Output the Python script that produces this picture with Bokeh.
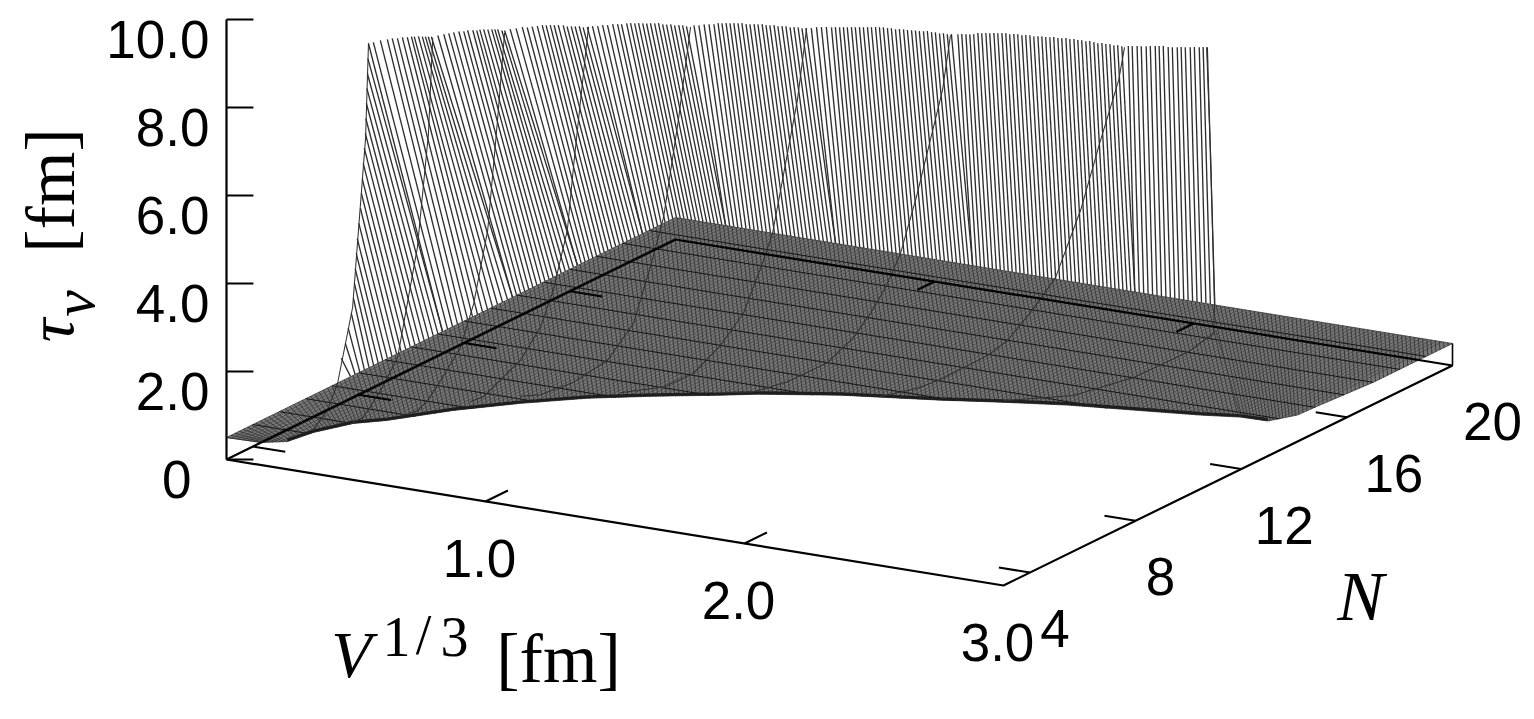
from math import pi
import numpy as np
from bokeh.plotting import figure
from bokeh.models import Range1d
from bokeh.core.properties import value
from bokeh.embed import file_html
from bokeh.resources import INLINE

# ---- axis ticks -------------------------------------------------------------
tau_ticks = [0, 2, 4, 6, 8, 10]
tau_labels = ["0", "2.0", "4.0", "6.0", "8.0", "10.0"]
V_ticks = [1, 2, 3]
V_labels = ["1.0", "2.0", "3.0"]
N_ticks = [4, 8, 12, 16, 20]
N_labels = ["4", "8", "12", "16", "20"]

# ---- floor plate at tau = 0.5: front boundary of the surface (V, N) ----------
plate_tau = 0.5
front_V = [0.0, 0.128, 0.200, 0.222, 0.285, 0.366, 0.498, 0.651, 0.815, 0.995, 1.183, 1.284,
           1.531, 1.850, 2.036, 2.248, 2.469, 2.693, 2.821, 2.923, 2.974, 2.980, 2.989, 3.0, 3.0, 3.0]
front_N = [3.0, 3.03, 3.34, 4.11, 5.01, 5.51, 6.71, 7.75, 8.68, 9.42, 10.11, 10.51,
           11.24, 11.89, 12.34, 12.80, 13.13, 13.47, 13.73, 13.76, 14.39, 15.16, 15.99, 17.03, 18.6, 20.0]

# ---- coarse curves at constant V: N and tau read along each ------------------
rib_V = [0.332, 0.479, 0.672, 0.942, 1.135, 1.521, 1.907, 2.525, 3.0]
rib_N = [
    [3, 3.57, 3.95, 4.52, 4.74, 5.01, 5.12],
    [3, 3.49, 4.14, 4.78, 5.53, 5.95, 6.11],
    [3, 3.64, 4.02, 4.52, 5.27, 5.77, 6.30, 6.67, 6.94],
    [3, 3.49, 4.02, 4.89, 5.65, 6.14, 6.67, 6.90, 7.17, 7.47],
    [3, 3.76, 5.01, 6.30, 7.28, 7.96, 8.42, 8.98, 9.44],
    [3, 4.63, 5.77, 6.79, 7.66, 8.42, 8.76, 9.70, 10.05],
    [3, 4.25, 5.54, 7.05, 8.04, 8.68, 9.25, 9.82, 10.42, 11.41, 11.71],
    [3, 4.40, 5.27, 7.05, 7.81, 8.80, 9.63, 10.58, 11.30, 12.02, 12.24],
    [3, 5.65, 7.92, 9.97, 10.95, 10.99, 10.84, 10.69],
]
rib_tau = [
    [0.98, 1.27, 1.77, 3.33, 5.01, 7.03, 9.15],
    [1.27, 1.28, 1.69, 2.25, 4.53, 7.00, 9.13],
    [1.62, 1.56, 1.68, 1.99, 2.52, 3.37, 4.88, 7.26, 9.18],
    [2.22, 2.18, 2.34, 2.60, 3.13, 3.83, 5.04, 6.40, 7.85, 9.42],
    [2.52, 2.33, 2.25, 2.37, 2.92, 4.09, 5.00, 7.04, 9.02],
    [2.97, 2.62, 2.60, 2.93, 3.41, 4.39, 4.90, 7.65, 9.18],
    [3.34, 2.99, 2.84, 2.83, 3.11, 3.47, 3.89, 4.50, 5.60, 7.74, 8.90],
    [3.84, 3.62, 3.56, 3.58, 3.70, 4.14, 4.60, 5.85, 7.16, 8.38, 9.06],
    [4.20, 3.54, 3.28, 3.25, 3.39, 3.97, 7.52, 9.97],
]
edge_V = [2.232, 2.821]
edge_N = [18.56, 13.73]

# ---- fine wall lines: upper end of each one, grouped by the N it lies on -----
wall_N = [5, 5, 6, 7, 8, 9, 10, 11, 12]
wall_V = [
    [0.239, 0.255, 0.266, 0.278, 0.286, 0.290, 0.293, 0.297, 0.301, 0.307, 0.313, 0.317, 0.320, 0.324, 0.328,
     0.332, 0.334, 0.336, 0.338, 0.340, 0.342],
    [0.344, 0.363, 0.390, 0.417, 0.436, 0.456, 0.475, 0.494, 0.510, 0.521, 0.537, 0.552, 0.564, 0.575, 0.587],
    [0.510, 0.533, 0.552, 0.571, 0.591, 0.610, 0.625, 0.645, 0.660, 0.672, 0.687, 0.703, 0.718, 0.730, 0.741,
     0.757, 0.768],
    [0.687, 0.710, 0.734, 0.753, 0.772, 0.792, 0.811, 0.826, 0.842, 0.857, 0.873, 0.892, 0.907, 0.923, 0.938,
     0.954, 0.969, 0.985],
    [0.903, 0.923, 0.942, 0.961, 0.981, 1.000, 1.015, 1.035, 1.050, 1.066, 1.081, 1.097, 1.112, 1.127, 1.143,
     1.158, 1.174, 1.189, 1.205, 1.220, 1.236, 1.251, 1.266],
    [1.193, 1.212, 1.232, 1.251, 1.270, 1.286, 1.301, 1.317, 1.332, 1.347, 1.363, 1.378, 1.394, 1.409, 1.425,
     1.440, 1.456, 1.471, 1.486, 1.502, 1.517, 1.533, 1.548, 1.564, 1.579, 1.595, 1.610, 1.625],
    [1.544, 1.564, 1.583, 1.602, 1.622, 1.637, 1.653, 1.668, 1.683, 1.699, 1.714, 1.730, 1.745, 1.761, 1.776,
     1.792, 1.807, 1.822, 1.838, 1.853, 1.869, 1.884, 1.900, 1.915, 1.931, 1.946, 1.961, 1.977, 1.992, 2.008,
     2.023, 2.039, 2.054, 2.069, 2.085],
    [2.008, 2.023, 2.039, 2.054, 2.069, 2.085, 2.100, 2.116, 2.131, 2.147, 2.162, 2.178, 2.193, 2.208, 2.224,
     2.239, 2.255, 2.270, 2.286, 2.301, 2.317, 2.332, 2.347, 2.363, 2.378, 2.394, 2.409, 2.425, 2.440, 2.456,
     2.471, 2.486, 2.502, 2.517, 2.533, 2.548, 2.564, 2.579, 2.595, 2.610, 2.625, 2.641],
    [2.564, 2.579, 2.598, 2.614, 2.633, 2.649, 2.668, 2.683, 2.699, 2.718, 2.734, 2.753, 2.768, 2.784, 2.803,
     2.819, 2.838, 2.853, 2.869],
]
wall_tau = [
    [1.94, 2.29, 2.65, 3.00, 3.35, 3.69, 4.03, 4.38, 4.72, 5.07, 5.42, 5.76, 6.10, 6.45, 6.80,
     7.14, 7.48, 7.83, 8.17, 8.51, 8.85],
    [9.20, 9.24, 9.31, 9.36, 9.40, 9.42, 9.46, 9.48, 9.51, 9.52, 9.54, 9.55, 9.56, 9.57, 9.58],
    [9.24, 9.29, 9.33, 9.37, 9.41, 9.43, 9.47, 9.49, 9.50, 9.53, 9.55, 9.56, 9.58, 9.59, 9.60, 9.59, 9.60],
    [9.26, 9.30, 9.35, 9.36, 9.40, 9.43, 9.47, 9.48, 9.50, 9.51, 9.53, 9.54, 9.53, 9.55, 9.56, 9.58, 9.57, 9.59],
    [9.24, 9.26, 9.30, 9.32, 9.36, 9.38, 9.39, 9.43, 9.45, 9.46, 9.48, 9.49, 9.50, 9.52, 9.53, 9.55, 9.54, 9.55,
     9.57, 9.56, 9.58, 9.59, 9.58],
    [9.24, 9.26, 9.30, 9.32, 9.34, 9.38, 9.39, 9.41, 9.42, 9.44, 9.45, 9.47, 9.46, 9.47, 9.49, 9.50, 9.52, 9.51,
     9.52, 9.54, 9.53, 9.55, 9.56, 9.55, 9.57, 9.58, 9.57, 9.59],
    [9.22, 9.26, 9.28, 9.30, 9.31, 9.33, 9.34, 9.36, 9.37, 9.39, 9.40, 9.42, 9.43, 9.45, 9.46, 9.48, 9.49, 9.50,
     9.50, 9.51, 9.50, 9.52, 9.53, 9.53, 9.54, 9.55, 9.55, 9.56, 9.58, 9.57, 9.58, 9.57, 9.59, 9.58, 9.60],
    [9.23, 9.25, 9.26, 9.27, 9.29, 9.33, 9.34, 9.36, 9.37, 9.39, 9.40, 9.42, 9.43, 9.42, 9.44, 9.45, 9.44, 9.46,
     9.47, 9.46, 9.48, 9.49, 9.49, 9.50, 9.52, 9.51, 9.52, 9.54, 9.53, 9.55, 9.54, 9.55, 9.54, 9.56, 9.55, 9.54,
     9.56, 9.55, 9.56, 9.55, 9.57, 9.56],
    [9.20, 9.21, 9.23, 9.24, 9.26, 9.28, 9.30, 9.31, 9.33, 9.32, 9.33, 9.35, 9.37, 9.38, 9.40, 9.42, 9.43, 9.45, 9.46],
]
# where each group of wall lines meets the plate outline (0..17 is the V=0 edge, beyond it the N=20 edge)
wall_edge = [4.70, 8.18, 10.83, 13.29, 15.75, 18.9, 23.06, 28.25, 34.39, 37.42]

# ---- oblique projection of the 3-D box onto the plane of the plot -------------
N_MIN = 3.0
ORIGIN = (226.0, 459.0)
STEP_V = (259.0, 42.0)
STEP_N = (449.0 / 17, -220.0 / 17)
STEP_TAU = -44.0


def px(V, N, tau=0.0):
    return ORIGIN[0] + STEP_V[0] * np.asarray(V, float) + STEP_N[0] * (np.asarray(N, float) - N_MIN)


def py(V, N, tau=0.0):
    return (ORIGIN[1] + STEP_V[1] * np.asarray(V, float) + STEP_N[1] * (np.asarray(N, float) - N_MIN)
            + STEP_TAU * np.asarray(tau, float))


def edge_point(u):
    u = np.asarray(u, float)
    V = np.where(u <= 17, 0.0, (u - 17) * STEP_N[0] / STEP_V[0])
    N = np.where(u <= 17, N_MIN + u, 20.0)
    return V, N


p = figure(width=1530, height=715, x_range=Range1d(0, 1530), y_range=Range1d(715, 0),
           toolbar_location=None, output_backend="svg", min_border=0)
p.axis.visible = False
p.grid.visible = False
p.outline_line_color = None
p.background_fill_color = "white"
p.border_fill_color = "white"

# wall of fine lines
xs, ys = [], []
for i, (n, vs, ts) in enumerate(zip(wall_N, wall_V, wall_tau)):
    us = np.linspace(wall_edge[i], wall_edge[i + 1], len(vs))
    bv, bn = edge_point(us)
    for v, t, bv_k, bn_k in zip(vs, ts, bv, bn):
        xs.append([float(px(v, n)), float(px(bv_k, bn_k))])
        ys.append([float(py(v, n, t)), float(py(bv_k, bn_k, plate_tau))])
p.multi_line(xs, ys, line_color="#2e2e2e", line_width=1.35)

# plate
outline_V = list(front_V) + [3.0, 0.0]
outline_N = list(front_N) + [20.0, 20.0]
p.patch(px(outline_V, outline_N), py(outline_V, outline_N, plate_tau), fill_color="#767676", line_color="#3a3a3a",
        line_width=0.8)

# plate mesh
fx = px(front_V, front_N)
order = np.argsort(fx)
hatch_u = np.linspace(0.0, 46.4, 292)
hv, hn = edge_point(hatch_u)
hx = px(hv, hn)
target = np.interp(hx, [226, 350, 1214, 1290, 1452], [262, 365, 1240, 1297, 1452])
tv = np.interp(target, fx[order], np.asarray(front_V)[order])
tn = np.interp(target, fx[order], np.asarray(front_N)[order])
p.multi_line([[float(a), float(b)] for a, b in zip(hx, px(tv, tn))],
             [[float(a), float(b)] for a, b in zip(py(hv, hn, plate_tau), py(tv, tn, plate_tau))],
             line_color="#2c2c2c", line_width=0.8)

mesh_V = np.arange(0.02, 2.98, 0.02)
end_N = np.interp(mesh_V, front_V[:21], front_N[:21])
p.multi_line([[float(a), float(b)] for a, b in zip(px(mesh_V, end_N), px(mesh_V, 20.0))],
             [[float(a), float(b)] for a, b in zip(py(mesh_V, end_N, plate_tau), py(mesh_V, 20.0, plate_tau))],
             line_color="#3c3c3c", line_width=0.6)

# coarse lines of constant N on the plate
for n in range(4, 20):
    end_V = float(np.interp(n, front_N[:24], front_V[:24]))
    p.line(px([0, end_V], [n, n]), py([0, end_V], [n, n], plate_tau), line_color="#161616", line_width=1.0)

# darkened front of the surface
p.line(px(front_V[2:20], front_N[2:20]), py(front_V[2:20], front_N[2:20], plate_tau) - 1.5, line_color="#1e1e1e",
       line_width=3.0)

# coarse curves
for v, ns, ts in zip(rib_V, rib_N, rib_tau):
    p.line(px(v, ns), py(v, ns, ts), line_color="#303030", line_width=1.05)
p.line(px(edge_V, edge_N), py(edge_V, edge_N, plate_tau), line_color="#3a3a3a", line_width=0.8)

# box
AX = dict(line_color="black", line_width=2.2)
p.line(px([0, 0], [3, 3]), py([0, 0], [3, 3], [0, 10]), **AX)
p.line(px([0, 3, 3, 0, 0], [3, 3, 20, 20, 3]), py([0, 3, 3, 0, 0], [3, 3, 20, 20, 3]), **AX)
p.line(px([3, 3], [20, 20]), py([3, 3], [20, 20], [0, plate_tau]), line_color="black", line_width=1.6)

# ticks
TICK = dict(line_color="black", line_width=2.0)
p.segment(px(0, 3) + 0 * np.array(tau_ticks), py(0, 3, tau_ticks), px(0.078, 3.255) + 0 * np.array(tau_ticks),
          py(0.078, 3.255, tau_ticks), **TICK)
p.segment(px([1, 2], 3), py([1, 2], 3), px([1, 2], 3.85), py([1, 2], 3.85), **TICK)
p.segment(px([1, 2], 20), py([1, 2], 20), px([1, 2], 19.35), py([1, 2], 19.35), **TICK)
p.segment(px(3, N_ticks[:4]), py(3, N_ticks[:4]), px(2.88, N_ticks[:4]), py(2.88, N_ticks[:4]), **TICK)
p.segment(px(0, N_ticks[:4]), py(0, N_ticks[:4]), px(0.125, N_ticks[:4]), py(0.125, N_ticks[:4]), **TICK)

# tick labels
NUM = dict(text_font=value("Liberation Sans"), text_font_size=value("53px"), text_color="black",
           text_baseline="middle")
tau_x = px(0, 3) + np.array([-35, -17, -17, -17, -17, -17])
p.text(tau_x, py(0, 3, tau_ticks) + 20, text=tau_labels, text_align="right", **NUM)
p.text(px(V_ticks, 3) - 6, py(V_ticks, 3) + 57, text=V_labels, text_align="center", **NUM)
p.text(px(3, N_ticks) + np.array([25, 25, 43, 47, 40]), py(3, N_ticks) + 56, text=N_labels, text_align="center", **NUM)

# axis titles
SERIF = dict(text_font=value("Liberation Serif"), text_color="black", text_baseline="middle")
p.text([351], [654], text=["V"], text_align="center", text_font_size=value("66px"), text_font_style="italic", **SERIF)
p.text([396, 423, 454], [636, 634, 636], text=["1", "/", "3"], text_align="center", text_font_size=value("56px"), **SERIF)
p.text([558], [658], text=["[fm]"], text_align="center", text_font_size=value("70px"), **SERIF)
p.text([1360], [596], text=["N"], text_align="center", text_font_size=value("70px"), text_font_style="italic", **SERIF)
p.text([50], [190], text=["[fm]"], text_align="center", angle=pi / 2, text_font_size=value("70px"), **SERIF)
p.text([50], [330], text=["\u03c4"], text_align="center", angle=pi / 2, text_font_size=value("66px"),
       text_font_style="italic", **SERIF)
p.text([73], [303], text=["v"], text_align="center", angle=pi / 2, text_font_size=value("60px"),
       text_font_style="italic", **SERIF)

open("out.html", "w").write(file_html(p, INLINE))
